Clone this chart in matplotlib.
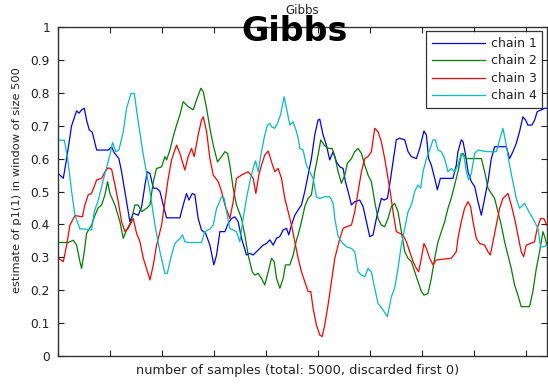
import matplotlib
matplotlib.use("Agg")
import matplotlib.pyplot as plt

plt.rcParams['font.family'] = ['DejaVu Sans']

# Sliding-window estimates of p1(1) for four Gibbs chains (window size 500)
chain1_x = [0, 48, 80, 128, 176, 199, 224, 250, 272, 298, 327, 369, 481, 513, 538, 583, 609, 641, 689, 721, 753,
            770, 802, 834, 856, 882, 914, 946, 978, 1010, 1042, 1170, 1202, 1234, 1257, 1289, 1314, 1346, 1378, 1417,
            1459, 1497, 1523, 1555, 1603, 1635, 1667, 1699, 1731, 1763, 1811, 1843, 1875, 1907, 1939, 1971, 2004,
            2036, 2068, 2100, 2132, 2164, 2196, 2218, 2244, 2276, 2308, 2340, 2372, 2404, 2436, 2468, 2500, 2516,
            2548, 2580, 2612, 2645, 2677, 2709, 2741, 2763, 2789, 2821, 2853, 2901, 2933, 2965, 2997, 3029, 3061,
            3077, 3109, 3135, 3167, 3189, 3221, 3253, 3285, 3334, 3366, 3398, 3446, 3478, 3519, 3542, 3564, 3590,
            3622, 3648, 3677, 3718, 3798, 3830, 3846, 3878, 3894, 3917, 3943, 3975, 4007, 4039, 4071, 4103, 4135,
            4167, 4199, 4311, 4343, 4375, 4407, 4439, 4471, 4497, 4519, 4558, 4584, 4609, 4648, 4680, 4700]
chain1_y = [0.555, 0.54, 0.60, 0.70, 0.745, 0.738, 0.748, 0.753, 0.717, 0.687, 0.68, 0.626, 0.626, 0.636, 0.618,
            0.60, 0.56, 0.50, 0.408, 0.434, 0.43, 0.428, 0.454, 0.52, 0.56, 0.555, 0.51, 0.51, 0.50, 0.459, 0.42,
            0.42, 0.459, 0.494, 0.474, 0.494, 0.49, 0.418, 0.383, 0.373, 0.337, 0.277, 0.307, 0.378, 0.378, 0.403,
            0.418, 0.423, 0.408, 0.358, 0.307, 0.312, 0.307, 0.317, 0.327, 0.337, 0.342, 0.353, 0.337, 0.358, 0.363,
            0.383, 0.388, 0.368, 0.398, 0.428, 0.444, 0.459, 0.50, 0.55, 0.60, 0.672, 0.717, 0.72, 0.672, 0.641,
            0.596, 0.621, 0.59, 0.575, 0.57, 0.53, 0.50, 0.459, 0.469, 0.474, 0.454, 0.408, 0.363, 0.368, 0.418,
            0.439, 0.479, 0.474, 0.479, 0.52, 0.59, 0.657, 0.662, 0.657, 0.621, 0.606, 0.60, 0.631, 0.684, 0.672,
            0.60, 0.58, 0.54, 0.505, 0.54, 0.54, 0.54, 0.58, 0.621, 0.657, 0.652, 0.616, 0.56, 0.53, 0.515, 0.469,
            0.428, 0.479, 0.53, 0.60, 0.636, 0.636, 0.60, 0.621, 0.646, 0.682, 0.727, 0.717, 0.702, 0.702, 0.717,
            0.743, 0.748, 0.753, 0.753]

chain2_x = [0, 96, 144, 176, 208, 224, 250, 272, 320, 353, 385, 417, 449, 474, 497, 545, 593, 625, 657, 699, 737,
            769, 802, 850, 882, 914, 946, 994, 1026, 1042, 1074, 1106, 1138, 1170, 1202, 1250, 1298, 1330, 1372,
            1395, 1427, 1459, 1491, 1532, 1571, 1603, 1629, 1651, 1683, 1715, 1763, 1795, 1827, 1866, 1891, 1923,
            1955, 1987, 2020, 2052, 2077, 2100, 2132, 2164, 2186, 2228, 2260, 2292, 2308, 2340, 2372, 2404, 2436,
            2468, 2500, 2526, 2558, 2596, 2635, 2661, 2693, 2725, 2757, 2782, 2821, 2853, 2885, 2917, 2949, 2981,
            3013, 3045, 3077, 3109, 3141, 3173, 3205, 3237, 3269, 3301, 3334, 3366, 3398, 3430, 3462, 3494, 3519,
            3558, 3590, 3622, 3654, 3686, 3718, 3750, 3782, 3846, 3878, 3894, 3927, 4071, 4103, 4135, 4167, 4199,
            4231, 4263, 4295, 4327, 4359, 4391, 4423, 4455, 4535, 4567, 4600, 4632, 4664, 4686, 4700]
chain2_y = [0.345, 0.345, 0.352, 0.337, 0.287, 0.266, 0.317, 0.373, 0.398, 0.428, 0.451, 0.459, 0.49, 0.53, 0.494,
            0.459, 0.408, 0.358, 0.383, 0.408, 0.459, 0.459, 0.439, 0.449, 0.459, 0.53, 0.57, 0.575, 0.606, 0.596,
            0.626, 0.667, 0.702, 0.733, 0.773, 0.758, 0.748, 0.778, 0.814, 0.803, 0.753, 0.692, 0.641, 0.59, 0.606,
            0.621, 0.616, 0.58, 0.51, 0.459, 0.418, 0.368, 0.307, 0.256, 0.246, 0.251, 0.236, 0.216, 0.256, 0.297,
            0.287, 0.236, 0.206, 0.236, 0.277, 0.277, 0.307, 0.352, 0.368, 0.408, 0.454, 0.479, 0.49, 0.56, 0.611,
            0.657, 0.641, 0.631, 0.631, 0.606, 0.56, 0.525, 0.55, 0.586, 0.60, 0.621, 0.631, 0.616, 0.58, 0.55, 0.53,
            0.469, 0.418, 0.398, 0.393, 0.418, 0.454, 0.464, 0.439, 0.378, 0.317, 0.297, 0.287, 0.256, 0.226, 0.196,
            0.185, 0.19, 0.236, 0.297, 0.347, 0.378, 0.408, 0.449, 0.48, 0.56, 0.611, 0.616, 0.60, 0.60, 0.56, 0.51,
            0.494, 0.479, 0.439, 0.398, 0.347, 0.307, 0.266, 0.216, 0.185, 0.15, 0.15, 0.196, 0.266, 0.317, 0.378,
            0.357, 0.337]

chain3_x = [0, 48, 80, 112, 160, 231, 256, 288, 320, 369, 417, 449, 481, 513, 545, 577, 609, 641, 673, 721, 753,
            786, 818, 859, 882, 914, 946, 994, 1026, 1058, 1090, 1138, 1170, 1218, 1250, 1282, 1308, 1346, 1378,
            1395, 1427, 1459, 1491, 1539, 1571, 1603, 1651, 1683, 1715, 1763, 1827, 1853, 1875, 1901, 1930, 1955,
            1987, 2020, 2052, 2084, 2116, 2148, 2180, 2212, 2244, 2276, 2308, 2340, 2372, 2404, 2430, 2452, 2484,
            2516, 2539, 2564, 2596, 2628, 2661, 2709, 2741, 2773, 2821, 2853, 2885, 2917, 2949, 2981, 3013, 3045,
            3077, 3109, 3141, 3173, 3199, 3221, 3253, 3317, 3350, 3382, 3414, 3446, 3468, 3494, 3519, 3542, 3574,
            3606, 3638, 3782, 3830, 3846, 3878, 3910, 3943, 3968, 3991, 4023, 4055, 4103, 4135, 4157, 4183, 4215,
            4247, 4279, 4327, 4359, 4391, 4423, 4455, 4478, 4503, 4583, 4609, 4641, 4673, 4700]
chain3_y = [0.297, 0.287, 0.337, 0.398, 0.427, 0.423, 0.459, 0.49, 0.494, 0.535, 0.54, 0.56, 0.572, 0.568, 0.52,
            0.469, 0.408, 0.378, 0.388, 0.418, 0.373, 0.347, 0.297, 0.256, 0.231, 0.277, 0.337, 0.398, 0.469, 0.54,
            0.596, 0.641, 0.616, 0.565, 0.606, 0.631, 0.606, 0.672, 0.717, 0.727, 0.682, 0.60, 0.55, 0.53, 0.50,
            0.459, 0.418, 0.469, 0.54, 0.55, 0.56, 0.55, 0.54, 0.494, 0.55, 0.58, 0.611, 0.623, 0.59, 0.56, 0.57,
            0.54, 0.479, 0.439, 0.398, 0.348, 0.297, 0.256, 0.226, 0.196, 0.196, 0.145, 0.094, 0.064, 0.059, 0.094,
            0.155, 0.226, 0.297, 0.357, 0.388, 0.393, 0.398, 0.439, 0.50, 0.56, 0.60, 0.606, 0.621, 0.692, 0.682,
            0.651, 0.60, 0.54, 0.489, 0.439, 0.378, 0.368, 0.347, 0.317, 0.287, 0.266, 0.256, 0.297, 0.342, 0.327,
            0.297, 0.277, 0.292, 0.297, 0.317, 0.357, 0.408, 0.449, 0.469, 0.454, 0.408, 0.357, 0.342, 0.337, 0.317,
            0.307, 0.347, 0.398, 0.449, 0.479, 0.494, 0.459, 0.418, 0.368, 0.317, 0.302, 0.337, 0.347, 0.388, 0.418,
            0.418, 0.398]

chain4_x = [0, 58, 90, 128, 160, 208, 256, 320, 346, 385, 449, 497, 522, 554, 583, 625, 657, 699, 731, 769, 818,
            882, 930, 978, 1026, 1048, 1090, 1122, 1170, 1196, 1218, 1266, 1378, 1410, 1459, 1491, 1523, 1539, 1571,
            1596, 1619, 1651, 1683, 1715, 1747, 1779, 1811, 1843, 1875, 1898, 1923, 1955, 1987, 2013, 2036, 2052,
            2084, 2109, 2138, 2157, 2173, 2196, 2228, 2260, 2292, 2308, 2324, 2356, 2388, 2420, 2452, 2484, 2516,
            2564, 2612, 2645, 2661, 2693, 2725, 2773, 2821, 2853, 2885, 2917, 2949, 2981, 3013, 3045, 3077, 3125,
            3167, 3189, 3205, 3237, 3269, 3301, 3334, 3366, 3398, 3430, 3462, 3487, 3510, 3542, 3574, 3606, 3628,
            3654, 3686, 3718, 3750, 3782, 3814, 3846, 3878, 3904, 3927, 3949, 3975, 4007, 4039, 4087, 4135, 4215,
            4247, 4279, 4311, 4343, 4375, 4407, 4439, 4487, 4519, 4567, 4600, 4615, 4641, 4673, 4700]
chain4_y = [0.656, 0.656, 0.60, 0.50, 0.428, 0.386, 0.386, 0.383, 0.439, 0.474, 0.555, 0.611, 0.649, 0.621, 0.626,
            0.682, 0.753, 0.798, 0.798, 0.712, 0.611, 0.50, 0.398, 0.317, 0.251, 0.251, 0.307, 0.342, 0.357, 0.368,
            0.347, 0.345, 0.345, 0.378, 0.386, 0.398, 0.449, 0.459, 0.484, 0.479, 0.439, 0.388, 0.383, 0.378, 0.347,
            0.418, 0.479, 0.53, 0.57, 0.593, 0.56, 0.621, 0.672, 0.702, 0.707, 0.697, 0.692, 0.707, 0.733, 0.763,
            0.788, 0.753, 0.702, 0.712, 0.682, 0.662, 0.631, 0.626, 0.58, 0.56, 0.54, 0.484, 0.479, 0.484, 0.484,
            0.464, 0.418, 0.363, 0.347, 0.332, 0.327, 0.317, 0.256, 0.246, 0.241, 0.266, 0.256, 0.206, 0.16, 0.14,
            0.12, 0.155, 0.18, 0.206, 0.266, 0.337, 0.388, 0.439, 0.459, 0.50, 0.52, 0.51, 0.56, 0.60, 0.626, 0.657,
            0.657, 0.626, 0.621, 0.60, 0.56, 0.57, 0.56, 0.58, 0.616, 0.606, 0.56, 0.535, 0.555, 0.616, 0.626, 0.623,
            0.621, 0.621, 0.657, 0.692, 0.641, 0.58, 0.53, 0.479, 0.449, 0.464, 0.444, 0.418, 0.398, 0.388, 0.332,
            0.332, 0.337]

series = [
    ("chain 1", chain1_x, chain1_y, (0.0, 0.0, 1.0)),
    ("chain 2", chain2_x, chain2_y, (0.0, 0.5, 0.0)),
    ("chain 3", chain3_x, chain3_y, (1.0, 0.0, 0.0)),
    ("chain 4", chain4_x, chain4_y, (0.0, 0.75, 0.75)),
]

x_ticks = [0, 500, 1000, 1500, 2000, 2500, 3000, 3500, 4000, 4500]
y_ticks = [0, 0.1, 0.2, 0.3, 0.4, 0.5, 0.6, 0.7, 0.8, 0.9, 1]
y_tick_labels = ["0", "0.1", "0.2", "0.3", "0.4", "0.5", "0.6", "0.7", "0.8", "0.9", "1"]

fig = plt.figure(figsize=(5.48, 3.84), dpi=100)
ax = fig.add_axes([0.1064, 0.0729, 0.8912, 0.8568])

for name, xs, ys, color in series:
    ax.plot(xs, ys, color=color, linewidth=0.9, label=name)

ax.set_xlim(0, 4700)
ax.set_ylim(0, 1)
ax.set_xticks(x_ticks)
ax.set_xticklabels([])
ax.set_yticks(y_ticks)
ax.set_yticklabels(y_tick_labels)
ax.tick_params(direction="in", length=4, width=0.8, top=True, right=True,
               labelsize=8.8, colors="#222222", pad=6)
for s in ax.spines.values():
    s.set_linewidth(1.0)
    s.set_color("#333333")

ax.set_xlabel("number of samples (total: 5000, discarded first 0)", fontsize=9.3,
              color="#222222")
ax.xaxis.set_label_coords(0.49, -0.025, transform=ax.transAxes)
ax.xaxis.label.set_va("top")
ax.set_ylabel("estimate of p1(1) in window of size 500", fontsize=8.2, color="#222222")
ax.yaxis.set_label_coords(-0.084, 0.535, transform=ax.transAxes)
ax.yaxis.label.set_va("center")

leg = ax.legend(loc="upper right", fontsize=9, frameon=True, fancybox=False,
                handlelength=4.2, handletextpad=0.5, borderpad=0.45, labelspacing=0.36,
                borderaxespad=0.35)
leg.get_frame().set_edgecolor("black")
leg.get_frame().set_linewidth(0.9)
for t in leg.get_texts():
    t.set_color("#222222")

fig.text(0.552, 0.972, "Gibbs", ha="center", va="center", fontsize=8.5, color="#222222")
fig.text(0.538, 0.918, "Gibbs", ha="center", va="center", fontsize=24, color="black",
         weight="bold")

fig.savefig("out.png", dpi=100)
